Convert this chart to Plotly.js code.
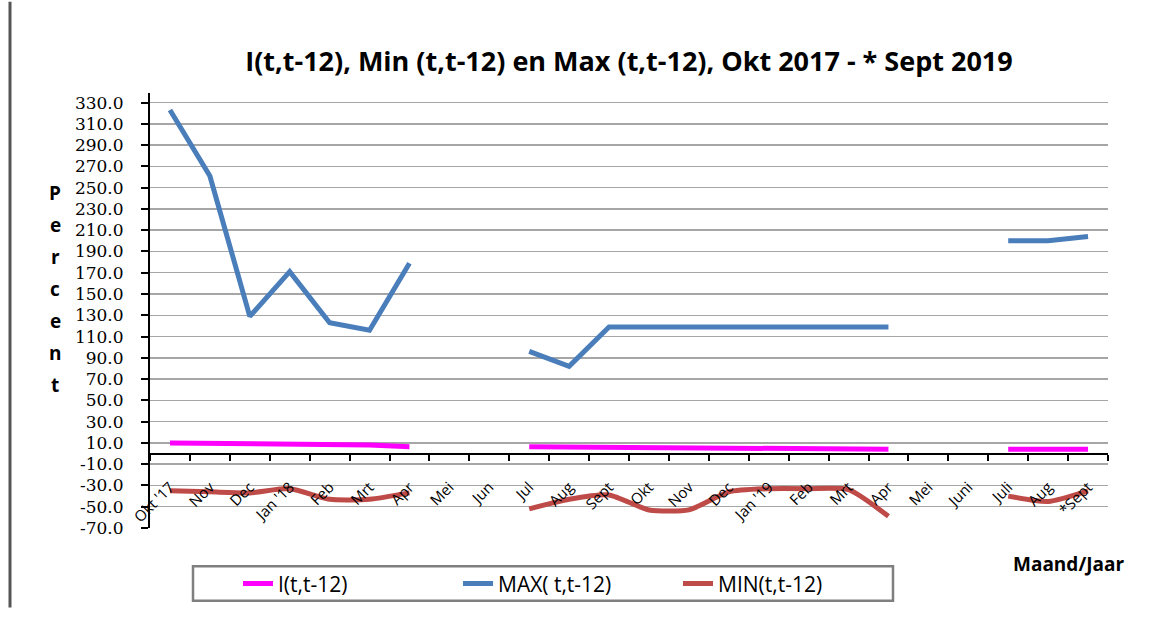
<!DOCTYPE html>
<html>
<head>
<meta charset="utf-8">
<script src="https://cdn.plot.ly/plotly-3.0.1.min.js"></script>
<style>html,body{margin:0;padding:0;background:#fff;}#chart{width:1149px;height:617px;}</style>
</head>
<body>
<div id="chart"></div>
<script>
// Month labels (x axis)
const months = ["Okt '17","Nov","Dec","Jan '18","Feb","Mrt","Apr","Mei","Jun","Jul","Aug","Sept",
                "Okt","Nov","Dec","Jan '19","Feb","Mrt","Apr","Mei","Juni","Juli","Aug","*Sept"];
// Series values (null = no data)
const iValues   = [10, 9.5, 9, 9, 9, 8, 6.5, null, null, 6.5, 6.3, 5.5, 5, 5, 5, 5, 4.5, 4, 4, null, null, 4, 4, 4];
const maxValues = [323, 261, 129, 171, 123, 116, 179, null, null, 96, 82, 119, 119, 119, 119, 119, 119, 120, 119, null, null, 200, 200, 204];
const minValues = [-35, -36, -37, -33, -43, -43, -37, null, null, -52, -43, -39, -53, -53, -36, -33, -33, -34, -59, null, null, -40, -45, -35];
// Y tick values
const yTicks = [-70,-50,-30,-10,10,30,50,70,90,110,130,150,170,190,210,230,250,270,290,310,330];
const yTitle = "Percent";

const xIdx = months.map((m, i) => i);

const traces = [
  {x: xIdx, y: iValues, name: "I(t,t-12)", type: "scatter", mode: "lines",
   line: {color: "#FF00FF", width: 5}, connectgaps: false},
  {x: xIdx, y: maxValues, name: "MAX( t,t-12)", type: "scatter", mode: "lines",
   line: {color: "#4A7EBB", width: 5}, connectgaps: false},
  {x: xIdx, y: minValues, name: "MIN(t,t-12)", type: "scatter", mode: "lines",
   line: {color: "#BE4B48", width: 5, shape: "spline", smoothing: 0.6}, connectgaps: false}
];

const yMin = -70, yMax = 339;

const letterAnns = yTitle.split("").map((ch, i) => ({
  text: ch, xref: "paper", yref: "paper",
  x: (55 - 150) / 958, y: (536 - (195 + 32.5 * i)) / 443,
  xanchor: "center", yanchor: "middle", showarrow: false,
  font: {family: "Open Sans, sans-serif", size: 19, color: "#000", weight: "bold"}
}));

const layout = {
  width: 1149, height: 617,
  margin: {l: 150, r: 41, t: 93, b: 81},
  paper_bgcolor: "#fff", plot_bgcolor: "#fff",
  showlegend: true,
  title: {
    text: "I(t,t-12), Min (t,t-12) en Max (t,t-12), Okt 2017 - * Sept 2019",
    font: {family: "Open Sans, sans-serif", size: 27, color: "#000", weight: "bold"},
    x: 0.5, xref: "paper", y: 1 - 62 / 617, yref: "container", yanchor: "middle"
  },
  xaxis: {
    range: [-0.5, 23.5], anchor: "free", position: (0 - yMin) / (yMax - yMin),
    tickvals: xIdx, ticktext: months, tickangle: -45,
    ticks: "", showgrid: false, zeroline: false, ticklabelstandoff: 18,
    showline: true, linecolor: "#000", linewidth: 2,
    tickfont: {family: "Open Sans, sans-serif", size: 15, color: "#000"},
    minor: {tick0: 0.5, dtick: 1, ticks: "outside", ticklen: 6, tickcolor: "#000", tickwidth: 2, showgrid: false},
    fixedrange: true
  },
  yaxis: {
    range: [yMin, yMax], tickvals: yTicks, ticktext: yTicks.map(v => v.toFixed(1)),
    ticks: "outside", ticklen: 7, tickcolor: "#000", tickwidth: 2, ticklabelstandoff: 14,
    showline: true, linecolor: "#000", linewidth: 2,
    showgrid: true, gridcolor: "#A6A6A6", gridwidth: 1.5, zeroline: false,
    tickfont: {family: "DejaVu Serif, serif", size: 17, color: "#000"},
    fixedrange: true
  },
  legend: {
    orientation: "h", x: (238 - 150) / 958, xanchor: "left",
    y: (536 - 593) / 443, yanchor: "middle",
    font: {family: "Open Sans, sans-serif", size: 21, color: "#000"},
    bgcolor: "rgba(0,0,0,0)", borderwidth: 0,
    entrywidth: 175, entrywidthmode: "pixels"
  },
  shapes: [
    {type: "rect", xref: "paper", yref: "paper",
     x0: (193 - 150) / 958, x1: (893 - 150) / 958,
     y0: (536 - 575) / 443, y1: (536 - 610) / 443,
     line: {color: "#7F7F7F", width: 2.5}, fillcolor: "rgba(0,0,0,0)", layer: "below"},
    {type: "line", xref: "paper", yref: "paper",
     x0: (10 - 150) / 958, x1: (10 - 150) / 958,
     y0: 536 / 443, y1: (536 - 617) / 443,
     line: {color: "#555", width: 3}}
  ],
  annotations: letterAnns.concat([
    {text: "Maand/Jaar", xref: "paper", yref: "paper",
     x: (1068 - 150) / 958, y: (536 - 573) / 443, xanchor: "center", yanchor: "middle",
     showarrow: false, font: {family: "Open Sans, sans-serif", size: 19, color: "#000", weight: "bold"}}
  ])
};

Plotly.newPlot("chart", traces, layout, {displayModeBar: false, staticPlot: true});
</script>
</body>
</html>
